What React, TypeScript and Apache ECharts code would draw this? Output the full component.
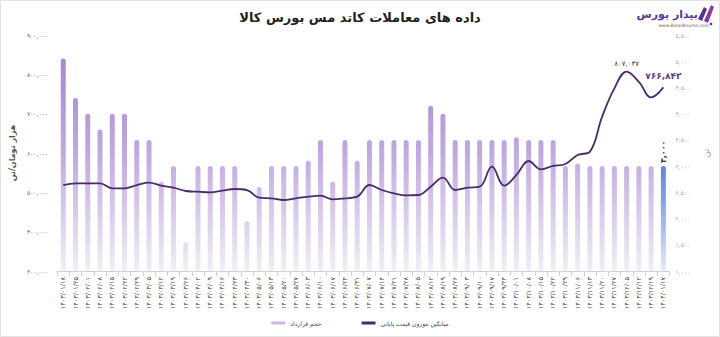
import React, { useEffect, useRef } from 'react';
import * as echarts from 'echarts';

const titleText = 'داده های معاملات کاتد مس بورس کالا';
const volName = 'حجم قرارداد';
const priceName = 'میانگین موزون قیمت پایانی';
const leftAxisName = 'هزار تومان/تن';
const rightAxisName = 'تن';

const categories = [
  '۱۴۰۳/۰۱/۱۸', '۱۴۰۳/۰۱/۲۵', '۱۴۰۳/۰۲/۰۱', '۱۴۰۳/۰۲/۰۸', '۱۴۰۳/۰۲/۱۵', '۱۴۰۳/۰۲/۲۲', '۱۴۰۳/۰۲/۲۹', '۱۴۰۳/۰۳/۰۵', '۱۴۰۳/۰۳/۱۲', '۱۴۰۳/۰۳/۱۹',
  '۱۴۰۳/۰۳/۲۶', '۱۴۰۳/۰۴/۰۲', '۱۴۰۳/۰۴/۰۹', '۱۴۰۳/۰۴/۱۶', '۱۴۰۳/۰۴/۲۳', '۱۴۰۳/۰۴/۳۰', '۱۴۰۳/۰۵/۰۶', '۱۴۰۳/۰۵/۱۳', '۱۴۰۳/۰۵/۲۰', '۱۴۰۳/۰۵/۲۷',
  '۱۴۰۳/۰۶/۰۳', '۱۴۰۳/۰۶/۱۰', '۱۴۰۳/۰۶/۱۷', '۱۴۰۳/۰۶/۲۴', '۱۴۰۳/۰۶/۳۱', '۱۴۰۳/۰۷/۰۷', '۱۴۰۳/۰۷/۱۴', '۱۴۰۳/۰۷/۲۱', '۱۴۰۳/۰۷/۲۸', '۱۴۰۳/۰۸/۰۵',
  '۱۴۰۳/۰۸/۱۲', '۱۴۰۳/۰۸/۱۹', '۱۴۰۳/۰۸/۲۶', '۱۴۰۳/۰۹/۰۳', '۱۴۰۳/۰۹/۱۰', '۱۴۰۳/۰۹/۱۷', '۱۴۰۳/۰۹/۲۴', '۱۴۰۳/۱۰/۰۱', '۱۴۰۳/۱۰/۰۸', '۱۴۰۳/۱۰/۱۵',
  '۱۴۰۳/۱۰/۲۲', '۱۴۰۳/۱۰/۲۹', '۱۴۰۳/۱۱/۰۶', '۱۴۰۳/۱۱/۱۳', '۱۴۰۳/۱۱/۲۰', '۱۴۰۳/۱۱/۲۷', '۱۴۰۳/۱۲/۰۵', '۱۴۰۳/۱۲/۱۲', '۱۴۰۳/۱۲/۱۹', '۱۴۰۴/۰۱/۱۷',
];

// contract volume (tons) - right axis
const volume = [
  5050, 4300, 4000, 3700, 4000, 4000, 3500, 3500, 2700, 3000,
  1550, 3000, 3000, 3000, 3000, 1950, 2600, 3000, 3000, 3000,
  3100, 3500, 2700, 3500, 3100, 3500, 3500, 3500, 3500, 3500,
  4150, 4000, 3500, 3500, 3500, 3500, 3500, 3550, 3500, 3500,
  3500, 3000, 3050, 3000, 3000, 3000, 3000, 3000, 3000, 3000,
];

// weighted average closing price (thousand toman / ton) - left axis
const price = [
  518600, 523000, 523000, 523000, 510300, 510300, 518600, 524500, 516900, 511800,
  503400, 501600, 500000, 504200, 508500, 505900, 486400, 484800, 480500, 484800,
  489000, 491600, 482300, 484800, 489000, 518600, 505900, 497500, 492400, 493200,
  514300, 537200, 505900, 511800, 514300, 565200, 516900, 544100, 579700, 558500,
  567000, 572000, 595000, 603400, 692300, 764400, 807037, 781000, 741500, 766842,
];

const leftTicks = { min: 300000, max: 900000, interval: 100000 };
const rightTicks = { min: 1000, max: 5500, interval: 500 };

const peakIndex = 46;
const lastIndex = 49;

const faDigits = '۰۱۲۳۴۵۶۷۸۹';
const fa = (s: string) => s.replace(/[0-9]/g, (d) => faDigits[+d]);
const fmt = (n: number) => fa(Math.round(n).toLocaleString('en-US'));

const FONT = 'DejaVu Sans';

export default function App() {
  const ref = useRef<HTMLDivElement>(null);

  useEffect(() => {
    document.body.style.margin = '0';
    if (!ref.current) return;
    const chart = echarts.init(ref.current, undefined, { renderer: 'svg' });

    const barGrad = new echarts.graphic.LinearGradient(0, 35, 0, 271, [
      { offset: 0, color: '#a082cb' },
      { offset: 0.5, color: '#c0a9df' },
      { offset: 0.85, color: '#e2d9ee' },
      { offset: 1, color: '#f1eff3' },
    ], true);
    const blueGrad = new echarts.graphic.LinearGradient(0, 169, 0, 271, [
      { offset: 0, color: '#5f88de' },
      { offset: 0.6, color: '#a9bfee' },
      { offset: 1, color: '#e6ecf8' },
    ], true);

    const barData = volume.map((v, i) =>
      i === lastIndex
        ? {
            value: v,
            itemStyle: { color: blueGrad },
            label: {
              show: true,
              position: 'top',
              rotate: 90,
              align: 'left',
              verticalAlign: 'middle',
              distance: 3,
              formatter: (p: any) => fmt(p.value),
              fontSize: 8,
              fontWeight: 'bold',
              color: '#333',
              fontFamily: FONT,
            },
          }
        : v
    );

    const lineData = price.map((v, i) => {
      if (i === peakIndex) {
        return {
          value: v,
          label: { show: true, position: 'top', distance: 4, formatter: (p: any) => fmt(p.value), fontSize: 7, color: '#333', fontFamily: FONT },
        };
      }
      if (i === lastIndex) {
        return {
          value: v,
          label: { show: true, position: 'top', distance: 7, formatter: (p: any) => fmt(p.value), fontSize: 9, fontWeight: 'bold', color: '#5b3f8c', fontFamily: FONT },
        };
      }
      return v;
    });

    const option: any = {
      animation: false,
      backgroundColor: '#ffffff',
      textStyle: { fontFamily: FONT },
      title: {
        text: titleText,
        left: 'center',
        top: 6,
        textStyle: { fontSize: 13, fontWeight: 'bold', color: '#222', fontFamily: FONT },
      },
      legend: {
        bottom: 6,
        left: 'center',
        itemWidth: 14,
        itemHeight: 3,
        itemGap: 40,
        textStyle: { fontSize: 6, color: '#444', fontFamily: FONT },
        data: [
          { name: volName, icon: 'rect', itemStyle: { color: '#cbb6e6' } },
          { name: priceName, icon: 'rect', itemStyle: { color: '#4a2b6b' } },
        ],
      },
      grid: { left: 54.5, right: 50.5, top: 35, bottom: 66 },
      xAxis: {
        type: 'category',
        data: categories,
        boundaryGap: true,
        axisLine: { lineStyle: { color: '#d0d0d0' } },
        axisTick: { show: true, length: 5, lineStyle: { color: '#d0d0d0' } },
        axisLabel: { rotate: 90, interval: 0, fontSize: 6.5, color: '#444', margin: 6, fontFamily: FONT },
        splitLine: { show: false },
      },
      yAxis: [
        {
          type: 'value',
          position: 'left',
          ...leftTicks,
          name: leftAxisName,
          nameLocation: 'middle',
          nameGap: 33,
          nameTextStyle: { fontSize: 8, fontWeight: 'bold', color: '#555', fontFamily: FONT },
          axisLabel: { formatter: (v: number) => fmt(v), fontSize: 6, color: '#666', margin: 9, fontFamily: FONT },
          axisLine: { show: false },
          axisTick: { show: false },
          splitLine: { show: false },
        },
        {
          type: 'value',
          position: 'right',
          ...rightTicks,
          name: rightAxisName,
          nameLocation: 'middle',
          nameGap: 33,
          nameTextStyle: { fontSize: 8, color: '#999', fontFamily: FONT },
          axisLabel: { formatter: (v: number) => fmt(v), fontSize: 6, color: '#aaa', margin: 6, fontFamily: FONT },
          axisLine: { show: false },
          axisTick: { show: false },
          splitLine: { show: false },
        },
      ],
      series: [
        {
          name: volName,
          type: 'bar',
          yAxisIndex: 1,
          data: barData,
          barWidth: 5,
          itemStyle: { color: barGrad, borderRadius: 3 },
          z: 1,
        },
        {
          name: priceName,
          type: 'line',
          yAxisIndex: 0,
          data: lineData,
          smooth: 0.4,
          symbol: 'circle',
          symbolSize: 0.1,
          showSymbol: true,
          lineStyle: { color: '#4a2b6b', width: 1.8 },
          itemStyle: { color: '#4a2b6b' },
          z: 3,
        },
      ],
      graphic: [
        {
          type: 'rect',
          silent: true,
          z: -10,
          shape: { x: 0.5, y: 0.5, width: 719, height: 336 },
          style: { fill: 'none', stroke: '#e3e3e3', lineWidth: 1 },
        },
        {
          type: 'polygon',
          silent: true,
          shape: { points: [[698, 19], [704, 7], [707, 9], [702, 21]] },
          style: { fill: '#5b2f8f' },
        },
        {
          type: 'polygon',
          silent: true,
          shape: { points: [[704, 21], [711, 5], [714, 7], [708, 23]] },
          style: { fill: '#8a3d9e' },
        },
        {
          type: 'circle',
          silent: true,
          shape: { cx: 711, cy: 24, r: 1.3 },
          style: { fill: '#5b2f8f' },
        },
        {
          type: 'text',
          silent: true,
          style: {
            text: 'بیدار بورس',
            x: 698,
            y: 14,
            align: 'right',
            verticalAlign: 'middle',
            fontSize: 11,
            fontWeight: 'bold',
            fill: '#5b3a8e',
            fontFamily: FONT,
          },
        },
        {
          type: 'text',
          silent: true,
          style: {
            text: 'www.BidarBourse.com',
            x: 709,
            y: 25,
            align: 'right',
            verticalAlign: 'middle',
            fontSize: 4.5,
            fill: '#666',
            fontFamily: FONT,
          },
        },
      ],
    };

    chart.setOption(option);
    return () => chart.dispose();
  }, []);

  return <div ref={ref} style={{ width: 720, height: 337 }} />;
}
